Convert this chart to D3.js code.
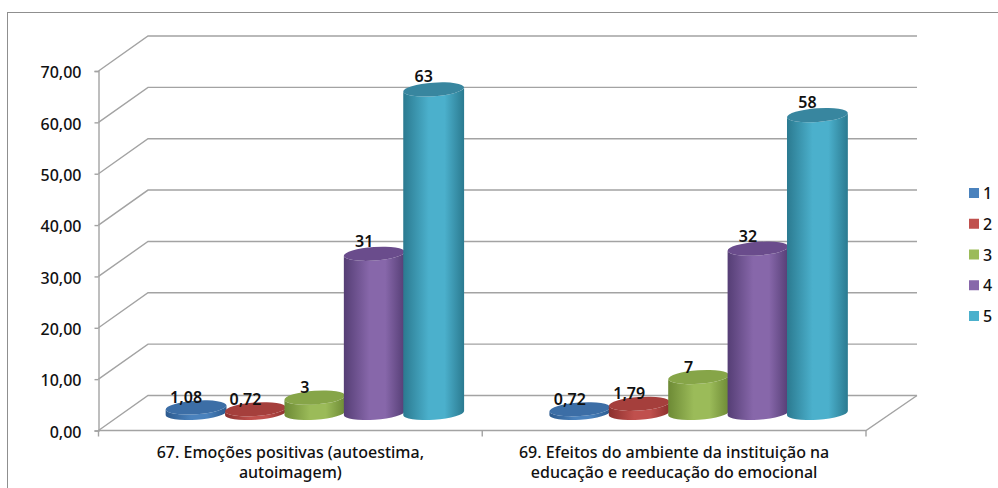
<!DOCTYPE html>
<html>
<head>
<meta charset="utf-8">
<script src="https://cdnjs.cloudflare.com/ajax/libs/d3/7.8.5/d3.min.js"></script>
<style>
html,body{margin:0;padding:0;background:#fff;overflow:hidden}
svg{display:block}
text{font-family:"Noto Sans",sans-serif;fill:#111}
</style>
</head>
<body>
<svg id="chart" width="998" height="488"></svg>
<script>
const categories = [
  ["67. Emoções positivas (autoestima,", "autoimagem)"],
  ["69. Efeitos do ambiente da instituição na", "educação e reeducação do emocional"]
];
const seriesNames = ["1", "2", "3", "4", "5"];
const group67 = [1.08, 0.72, 3, 31, 63];
const group69 = [0.72, 1.79, 7, 32, 58];
const valueLabels67 = ["1,08", "0,72", "3", "31", "63"];
const valueLabels69 = ["0,72", "1,79", "7", "32", "58"];
const yTicks = [0, 10, 20, 30, 40, 50, 60, 70];
const sideColors = ["#4a82bd", "#c0504d", "#9bbb59", "#8767aa", "#4bb0cc"];
const edgeColors = ["#2c5a8e", "#8c302d", "#6d8a35", "#553e75", "#2b7a90"];
const topColors = ["#3c6ea6", "#a53f3c", "#86a548", "#6a4c8c", "#38869f"];

const svg = d3.select("#chart");

// Plot box: front floor edge plus the depth offset of the back wall
const front = {x0: 98.5, x1: 866, y0: 430.5, y1: 71};
const depth = {dx: 49.5, dy: -35};
const barShift = {dx: 24.5, dy: -17.5};   // cylinders stand midway into the floor

const y = d3.scaleLinear().domain([0, 70]).range([front.y0, front.y1]);
const xFront = d3.scaleBand().domain([0, 1]).range([front.x0, front.x1]);
const xBars = d3.scaleBand().domain([0, 1]).range([front.x0 + barShift.dx, front.x1 + barShift.dx]);
const clusterWidth = 297;
const xInner = d3.scaleBand().domain(d3.range(5)).range([0, clusterWidth]);
const clusterLeft = g => xBars(g) + (xBars.bandwidth() - clusterWidth) / 2;

// Outer frame: only its top and left edges fall inside the page
svg.append("rect").attr("x", 7.5).attr("y", 12.5).attr("width", 1000).attr("height", 500)
  .attr("fill", "#fff").attr("stroke", "#8f8f8f").attr("stroke-width", 1);

// Gradients for the cylinder bodies
const defs = svg.append("defs");
seriesNames.forEach((s, i) => {
  const g = defs.append("linearGradient").attr("id", "body" + i);
  g.append("stop").attr("offset", "0%").attr("stop-color", edgeColors[i]);
  g.append("stop").attr("offset", "42%").attr("stop-color", sideColors[i]);
  g.append("stop").attr("offset", "68%").attr("stop-color", sideColors[i]);
  g.append("stop").attr("offset", "100%").attr("stop-color", edgeColors[i]);
});

// Back wall gridlines, side wall diagonals, floor
const gridColor = "#a3a3a3";
const grid = svg.append("g").attr("fill", "none").attr("stroke", gridColor).attr("stroke-width", 1.4);
yTicks.forEach(t => {
  grid.append("path").attr("d", d3.line()([
    [front.x0, y(t)],
    [front.x0 + depth.dx, y(t) + depth.dy],
    [front.x1 + depth.dx + 1.5, y(t) + depth.dy]
  ]));
});
grid.append("path").attr("d", d3.line()([
  [front.x0, y(0)], [front.x1, y(0)], [front.x1 + depth.dx + 1.5, y(0) + depth.dy]
]));

// Value axis
const yAxis = d3.axisLeft(y).tickValues(yTicks).tickSize(4).tickPadding(13)
  .tickFormat(d => d3.format(".2f")(d).replace(".", ","));
const yG = svg.append("g").attr("transform", `translate(${front.x0},0)`).call(yAxis);
yG.selectAll("path,line").attr("stroke", gridColor).attr("stroke-width", 1.4);
yG.selectAll("text").attr("font-size", 16).attr("font-weight", 500).attr("dy", "0.42em")
  .style("font-family", '"Noto Sans",sans-serif').style("fill", "#111");

// Category ticks under the floor edge
[0, 1, 2].forEach(k => {
  const px = front.x0 + k * xFront.bandwidth();
  svg.append("line").attr("x1", px).attr("x2", px).attr("y1", front.y0).attr("y2", front.y0 + 6)
    .attr("stroke", gridColor).attr("stroke-width", 1.4);
});

// Category labels
categories.forEach((lines, g) => {
  const cx = xFront(g) + xFront.bandwidth() / 2;
  lines.forEach((line, k) => {
    svg.append("text").attr("x", cx).attr("y", 458 + k * 20)
      .attr("text-anchor", "middle").attr("font-size", 16).attr("font-weight", 500).text(line);
  });
});

// Cylinders, left to right so each one overlaps its neighbour
const rx = 30.5, ry = 6.8, tilt = -4;
const baseY = y(0) + barShift.dy;
const h = v => y(0) - y(v);
const centerX = (g, i) => clusterLeft(g) + xInner(i) + xInner.bandwidth() / 2;
[group67, group69].forEach((vals, g) => {
  const cyl = svg.append("g");
  vals.forEach((v, i) => {
    const cx = centerX(g, i);
    const top = baseY - h(v);
    const c = cyl.append("g");
    const a = tilt * Math.PI / 180;
    const ox = rx * Math.cos(a), oy = rx * Math.sin(a);
    c.append("path")
      .attr("d", `M${cx - ox},${top - oy} L${cx - ox},${baseY - oy} ` +
                 `A${rx},${ry} ${tilt} 0 0 ${cx + ox},${baseY + oy} ` +
                 `L${cx + ox},${top + oy} ` +
                 `A${rx},${ry} ${tilt} 0 1 ${cx - ox},${top - oy}Z`)
      .attr("fill", `url(#body${i})`);
    c.append("ellipse").attr("cx", cx).attr("cy", top).attr("rx", rx).attr("ry", ry)
      .attr("transform", `rotate(${tilt} ${cx} ${top})`).attr("fill", topColors[i]);
  });
});

// Value labels sit above each cylinder, nudged towards the left rim
[[group67, valueLabels67], [group69, valueLabels69]].forEach(([vals, labels], g) => {
  vals.forEach((v, i) => {
    svg.append("text")
      .attr("x", centerX(g, i) - 10).attr("y", baseY - h(v) - (v >= 30 ? 7 : 4.5))
      .attr("text-anchor", "middle").attr("font-size", 16).attr("font-weight", 600)
      .text(labels[i]);
  });
});

// Legend
const legendY = d3.scalePoint().domain(seriesNames).range([193, 316]);
const legend = svg.append("g");
seriesNames.forEach((s, i) => {
  const ly = legendY(s);
  legend.append("rect").attr("x", 969).attr("y", ly - 5).attr("width", 10).attr("height", 10)
    .attr("fill", sideColors[i]);
  legend.append("text").attr("x", 983).attr("y", ly + 6).attr("font-size", 16).attr("font-weight", 500).text(s);
});
</script>
</body>
</html>
